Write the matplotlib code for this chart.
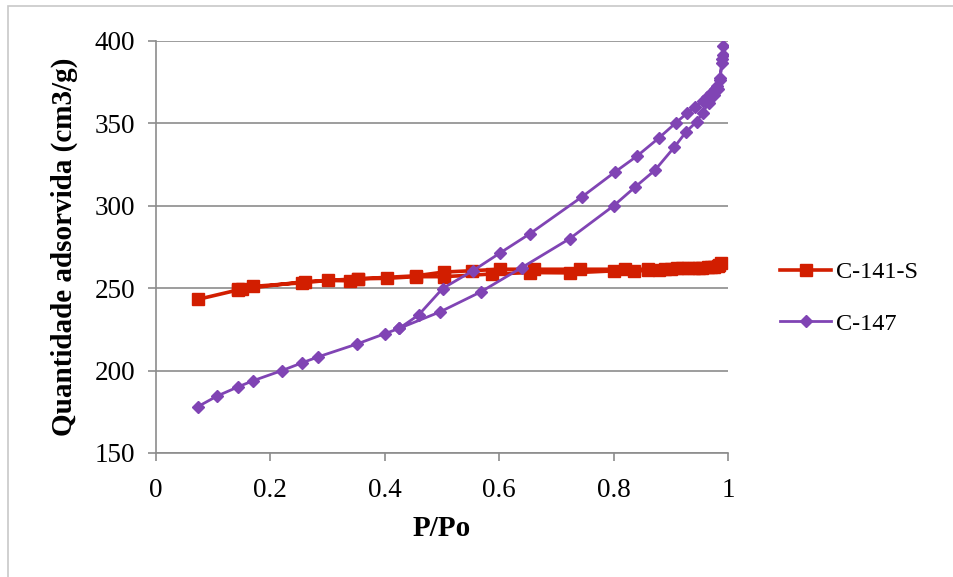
import matplotlib
matplotlib.use("Agg")
import matplotlib.pyplot as plt
from matplotlib.patches import Rectangle

# C-141-S (adsorption then desorption)
c141_x = [0.073, 0.144, 0.150, 0.170, 0.256, 0.300, 0.339, 0.354, 0.404, 0.454, 0.503,
          0.587, 0.654, 0.724, 0.800, 0.836, 0.860, 0.880, 0.900, 0.920, 0.940, 0.955,
          0.965, 0.975, 0.983, 0.988,
          0.985, 0.970, 0.950, 0.930, 0.910, 0.890, 0.860, 0.820, 0.741, 0.660, 0.601,
          0.552, 0.503, 0.454, 0.354, 0.260, 0.144]
c141_y = [243.2, 249.0, 249.3, 251.1, 253.3, 254.7, 254.5, 255.7, 256.0, 257.0, 257.0,
          258.6, 259.5, 259.3, 260.5, 260.2, 261.0, 261.0, 261.5, 262.0, 262.0, 262.3,
          262.6, 263.0, 263.5, 265.0,
          264.0, 263.0, 262.5, 262.0, 262.0, 261.5, 261.5, 261.5, 261.5, 261.5, 261.5,
          260.6, 259.8, 257.5, 255.7, 254.0, 249.3]

# C-147 (adsorption then desorption)
c147_x = [0.073, 0.107, 0.144, 0.170, 0.220, 0.256, 0.284, 0.351, 0.400, 0.425, 0.497,
          0.568, 0.639, 0.723, 0.800, 0.837, 0.872, 0.906, 0.927, 0.945, 0.956, 0.966,
          0.975, 0.982, 0.986, 0.989, 0.991, 0.992,
          0.990, 0.986, 0.981, 0.977, 0.971, 0.964, 0.956, 0.943, 0.928, 0.909, 0.879,
          0.841, 0.802, 0.745, 0.653, 0.602, 0.554, 0.501, 0.459, 0.425]
c147_y = [178.1, 184.6, 190.2, 193.9, 200.0, 204.8, 208.4, 216.1, 222.4, 225.6, 235.7,
          247.8, 262.4, 280.0, 300.0, 311.2, 321.5, 335.5, 345.0, 351.0, 356.5, 362.6,
          367.0, 371.0, 377.4, 386.5, 391.5, 396.8,
          389.0, 376.3, 372.7, 370.7, 368.6, 366.2, 363.8, 360.1, 356.1, 350.4, 341.1,
          330.2, 320.4, 305.5, 282.9, 271.5, 260.6, 249.8, 233.7, 225.6]

x_ticks = [0, 0.2, 0.4, 0.6, 0.8, 1]
x_tick_labels = ["0", "0.2", "0.4", "0.6", "0.8", "1"]
y_ticks = [150, 200, 250, 300, 350, 400]

FONT = "Liberation Serif"
RED = "#D21E00"
PURPLE = "#8044B4"
GRID = "#8C8C8C"

fig = plt.figure(figsize=(9.54, 5.77), dpi=100)
fig.patches.append(Rectangle((8/954, -0.1), 1.1, (577-6)/577 + 0.1, transform=fig.transFigure,
                             fill=False, edgecolor="#C8C8C8", linewidth=1.2))
ax = fig.add_axes([156/954, 1-453/577, (728-156)/954, (453-41)/577])

ax.plot(c141_x, c141_y, color=RED, lw=2.6, marker="s", ms=8, mec=RED, mfc=RED,
        label="C-141-S", zorder=3)
ax.plot(c147_x, c147_y, color=PURPLE, lw=2.0, marker="D", ms=6, mec=PURPLE, mfc=PURPLE,
        label="C-147", zorder=4)

ax.set_xlim(0, 1)
ax.set_ylim(150, 400)
ax.set_xticks(x_ticks)
ax.set_xticklabels(x_tick_labels)
ax.set_yticks(y_ticks)
for t in ax.get_xticklabels() + ax.get_yticklabels():
    t.set_fontfamily(FONT)
    t.set_fontsize(19.5)
ax.tick_params(axis="x", direction="out", length=6, width=1.2, color=GRID, pad=12)
ax.tick_params(axis="y", direction="out", length=6, width=1.2, color=GRID, pad=9)
ax.grid(axis="y", color=GRID, lw=1.2)
ax.set_axisbelow(True)
for s in ["top", "right"]:
    ax.spines[s].set_visible(False)
for s in ["left", "bottom"]:
    ax.spines[s].set_color(GRID)
    ax.spines[s].set_linewidth(1.2)

ax.set_xlabel("P/Po", fontfamily=FONT, fontsize=21, fontweight="bold", labelpad=9)
ax.set_ylabel("Quantidade adsorvida (cm3/g)", fontfamily=FONT, fontsize=21,
              fontweight="bold", labelpad=12)

leg = fig.legend(loc="center left", bbox_to_anchor=(780/954, 1-298/577), frameon=False,
                 prop={"family": FONT, "size": 17.5}, handlelength=2.1, handletextpad=0.2,
                 labelspacing=1.2, borderpad=0, borderaxespad=0)

fig.savefig("out.png", dpi=100)
